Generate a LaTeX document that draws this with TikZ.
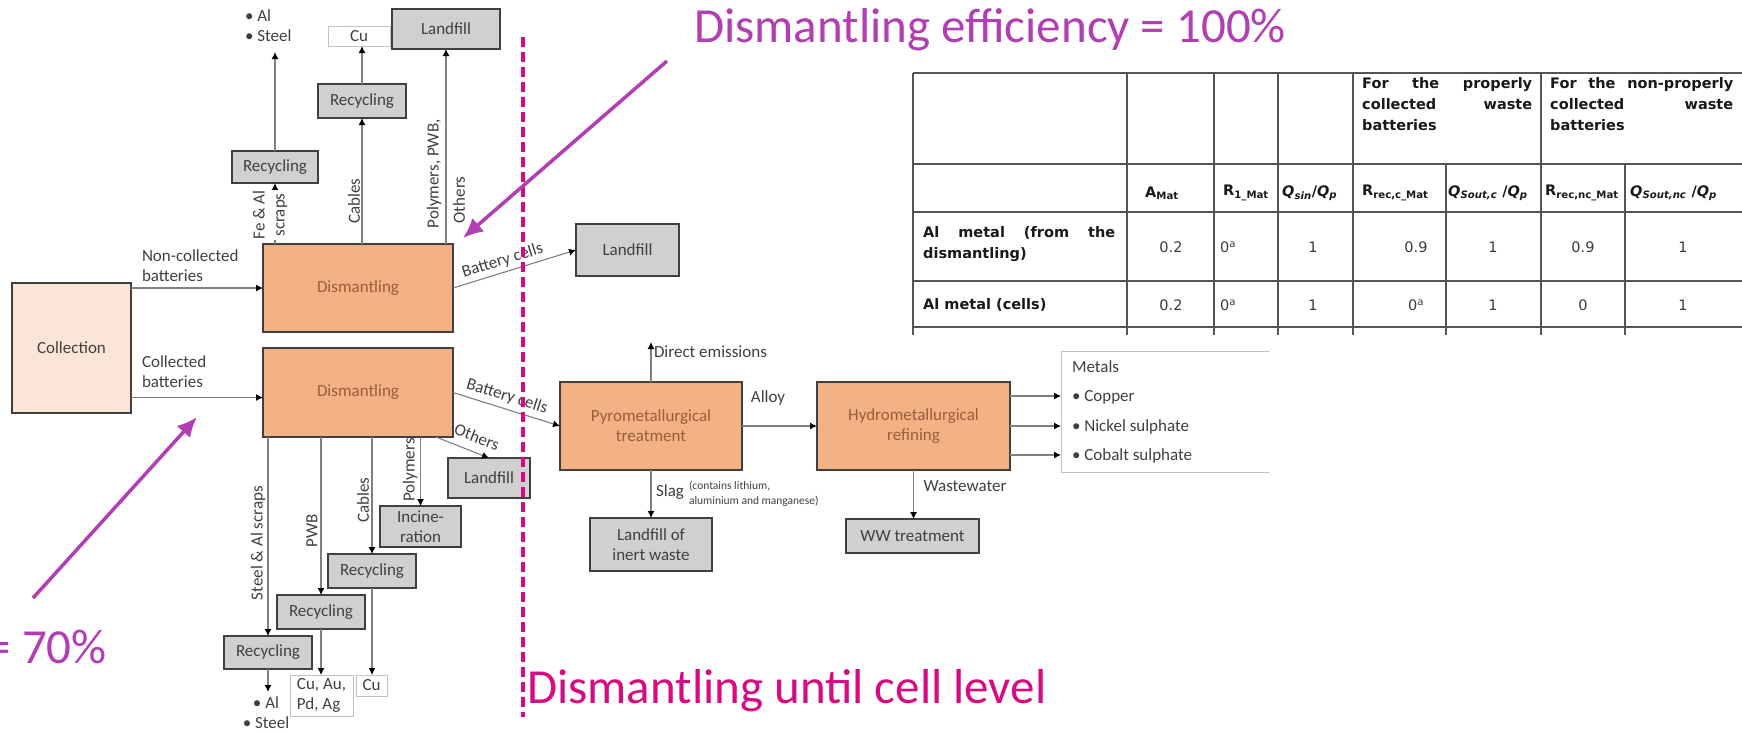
\documentclass[tikz,border=0pt]{standalone}
\usepackage{fontspec}
\setmainfont{Carlito}
\newfontfamily\tabfont{DejaVu Sans}[ItalicFont={DejaVu Sans Oblique},BoldFont={DejaVu Sans Bold},BoldItalicFont={DejaVu Sans Bold Oblique}]
\usetikzlibrary{arrows.meta}
\hyphenpenalty=10000
\exhyphenpenalty=10000
\tolerance=10000
\definecolor{boxline}{RGB}{64,64,64}
\definecolor{orangefill}{RGB}{244,177,131}
\definecolor{orangetext}{RGB}{150,95,60}
\definecolor{greyfill}{RGB}{208,208,208}
\definecolor{peach}{RGB}{251,229,214}
\definecolor{txt}{RGB}{64,64,64}
\definecolor{flowgrey}{RGB}{128,128,128}
\definecolor{lightline}{RGB}{195,195,195}
\definecolor{purp}{RGB}{177,62,178}
\definecolor{pinkm}{RGB}{214,10,130}
\definecolor{tabline}{RGB}{85,85,85}
\definecolor{tabtext}{RGB}{25,25,25}
\definecolor{tabval}{RGB}{60,60,60}
\tikzset{
  base/.style={inner sep=0pt, outer sep=0pt, font=\fontsize{17}{20}\selectfont},
  obox/.style={base, draw=boxline, line width=1.4pt, fill=orangefill, text=orangetext, align=center},
  gbox/.style={base, draw=boxline, line width=1.4pt, fill=greyfill, text=txt, align=center},
  cbox/.style={base, draw=boxline, line width=1.4pt, fill=peach, text=txt, align=center},
  wbox/.style={base, draw=lightline, line width=1pt, fill=white, text=txt},
  lbl/.style={base, text=txt},
  flow/.style={draw=flowgrey, line width=1.1pt, -{Latex[length=7pt,width=7pt,color=black]}},
  mag/.style={draw=purp, line width=3.5pt, -{Latex[length=20pt,width=18pt]}},
  big/.style={inner sep=0pt, font=\fontsize{49}{56}\selectfont},
  tb/.style={inner sep=0pt, text=tabtext, font=\tabfont\fontsize{14.5}{21}\selectfont},
  tv/.style={inner sep=0pt, text=tabval, font=\tabfont\fontsize{14.5}{21}\selectfont},
}
\begin{document}
\begin{tikzpicture}[x=1pt,y=-1pt]
\useasboundingbox (0,0) rectangle (1742,732);
\fill[white] (0,0) rectangle (1742,732);

% ---------- table ----------
\begin{scope}[draw=tabline, line width=1.2pt]
\draw (913,73) -- (1742,73);
\foreach \y in {164,212,281,327} \draw (913,\y) -- (1742,\y);
\foreach \x in {913,1127,1214,1278,1353,1541} \draw (\x,73) -- (\x,335);
\foreach \x in {1446,1625} \draw (\x,164) -- (\x,335);
\end{scope}
\node[tb, anchor=north west, text width=170pt, align=justify] (h1) at (1362,77) {\textbf{For the properly collected waste batteries}};
\node[tb, anchor=north west, text width=183pt, align=justify] (h2) at (1550,77) {\textbf{For the non\mbox{-}properly collected waste batteries}};
\node[tb, anchor=west] (c1) at (1145,193) {\textbf{A\textsubscript{Mat}}};
\node[tb, anchor=west] (c2) at (1223,193) {\textbf{R\textsubscript{1\_Mat}}};
\node[tb, anchor=west] (c3) at (1282,193) {\textbf{\textit{Q\textsubscript{sin}}/\textit{Q\textsubscript{p}}}};
\node[tb, anchor=west] (c4) at (1362,193) {\textbf{R\textsubscript{rec,c\_Mat}}};
\node[tb, anchor=west] (c5) at (1448,193) {\textbf{\textit{Q\textsubscript{Sout,c}} /\textit{Q\textsubscript{p}}}};
\node[tb, anchor=west] (c6) at (1545,193) {\textbf{R\textsubscript{rec,nc\_Mat}}};
\node[tb, anchor=west] (c7) at (1630,193) {\textbf{\textit{Q\textsubscript{Sout,nc}} /\textit{Q\textsubscript{p}}}};
\node[tb, anchor=north west, text width=192pt, align=justify] (r1) at (923,226) {\textbf{Al metal (from the dismantling)}};
\node[tb, anchor=west] (r2) at (923,305) {\textbf{Al metal (cells)}};
\node[tv] (v11) at (1171,247) {0.2};
\node[tv] (v12) at (1228,247) {0\textsuperscript{a}};
\node[tv] (v13) at (1313,247) {1};
\node[tv] (v14) at (1416,247) {0.9};
\node[tv] (v15) at (1493,247) {1};
\node[tv] (v16) at (1583,247) {0.9};
\node[tv] (v17) at (1683,247) {1};
\node[tv] (v21) at (1171,305) {0.2};
\node[tv] (v22) at (1228,305) {0\textsuperscript{a}};
\node[tv] (v23) at (1313,305) {1};
\node[tv] (v24) at (1416,305) {0\textsuperscript{a}};
\node[tv] (v25) at (1493,305) {1};
\node[tv] (v26) at (1583,305) {0};
\node[tv] (v27) at (1683,305) {1};

% ---------- boxes ----------
\node[cbox, minimum width=119pt, minimum height=130pt] (coll) at (71.5,348) {Collection};
\node[obox, minimum width=190pt, minimum height=88pt] (dis1) at (358,288) {Dismantling};
\node[obox, minimum width=190pt, minimum height=89pt] (dis2) at (358,392.5) {Dismantling};
\node[gbox, minimum width=86pt, minimum height=32pt] (rec1) at (275,167) {Recycling};
\node[gbox, minimum width=88pt, minimum height=34pt] (rec2) at (362,101) {Recycling};
\node[wbox, minimum width=62pt, minimum height=20pt] (cu1) at (359,36) {Cu};
\node[gbox, minimum width=108pt, minimum height=40pt] (land1) at (446,29) {Landfill};
\node[lbl, align=left, anchor=west] (als1) at (245,26) {• Al\\• Steel};
\coordinate (als1t) at (275,52);
\node[gbox, minimum width=103pt, minimum height=52pt] (land2) at (627.5,250) {Landfill};
\node[gbox, minimum width=82pt, minimum height=40pt] (land3) at (489,478) {Landfill};
\node[gbox, minimum width=81pt, minimum height=41pt] (incin) at (420.5,526.5) {Incine-\\ration};
\node[gbox, minimum width=88pt, minimum height=34pt] (rec3) at (372,571) {Recycling};
\node[gbox, minimum width=88pt, minimum height=34pt] (rec4) at (321,612) {Recycling};
\node[gbox, minimum width=88pt, minimum height=33pt] (rec5) at (268,652.5) {Recycling};
\node[wbox, minimum width=63pt, minimum height=41pt, align=left] (cuau) at (321.5,695.5) {Cu, Au,\\Pd, Ag};
\node[wbox, minimum width=31pt, minimum height=21pt] (cu2) at (371.5,685.5) {Cu};
\node[lbl, align=center] (als2) at (266,713) {• Al\\• Steel};
\coordinate (als2t) at (268,692);

\node[obox, minimum width=182pt, minimum height=88pt] (pyro) at (651,426) {Pyrometallurgical\\treatment};
\node[obox, minimum width=193pt, minimum height=88pt] (hydro) at (913.5,426) {Hydrometallurgical\\refining};
\node[gbox, minimum width=122pt, minimum height=53pt] (linert) at (651,544.5) {Landfill of\\inert waste};
\node[gbox, minimum width=133pt, minimum height=34pt] (wwt) at (912.5,536) {WW treatment};

% ---------- flows upper ----------
\draw[flow] (rec1 |- dis1.north) -- (rec1.south);
\draw[flow] (rec1.north) -- (als1t);
\draw[flow] (rec2 |- dis1.north) -- (rec2.south);
\draw[flow] (rec2.north) -- (rec2.north |- cu1.south);
\draw[flow] (land1 |- dis1.north) -- (land1.south);
\node[lbl, rotate=90, align=center, fill=white] (l1) at (270,215) {Fe \& Al\\scraps};
\node[lbl, rotate=90] (l2) at (354,201) {Cables};
\node[lbl, rotate=90] (l3) at (434,174) {Polymers, PWB,};
\node[lbl, rotate=90] (l4) at (459,200) {Others};

\coordinate (c2in) at ([yshift=-5pt]dis2.west);
\draw[flow] (coll.east |- dis1.west) -- (dis1.west);
\draw[flow] (coll.east |- c2in) -- (c2in);
\node[lbl, align=left, anchor=west] (nc) at (142,266) {Non-collected\\batteries};
\node[lbl, align=left, anchor=west] (cb) at (142,372) {Collected\\batteries};

\draw[flow] (dis1.east) -- node[lbl, sloped, above=4pt, pos=0.43] {Battery cells} (land2.west);
\draw[flow] (dis2.east) -- node[lbl, sloped, above=5pt, pos=0.47] {Battery cells} (pyro.west);
\draw[flow] ([xshift=-17pt]dis2.south east) -- (land3.north);
\node[lbl, rotate=-22] (oth) at (477,437) {Others};

% ---------- flows lower ----------
\draw[flow] (rec5 |- dis2.south) -- (rec5.north);
\draw[flow] (rec5.south) -- (als2t);
\draw[flow] (rec4 |- dis2.south) -- (rec4.north);
\draw[flow] (rec4.south) -- (rec4.south |- cuau.north);
\draw[flow] (rec3 |- dis2.south) -- (rec3.north);
\draw[flow] (rec3.south) -- (rec3.south |- cu2.north);
\draw[flow] (incin |- dis2.south) -- (incin.north);
\node[lbl, rotate=90] (s1) at (258,543) {Steel \& Al scraps};
\node[lbl, rotate=90] (s2) at (312,531) {PWB};
\node[lbl, rotate=90] (s3) at (363,500) {Cables};
\node[lbl, rotate=90] (s4) at (410,470) {Polymers};

% ---------- process chain ----------
\coordinate (de) at (651,342);
\draw[flow] (pyro.north) -- (de);
\node[lbl, anchor=west] (detext) at (654,352) {Direct emissions};
\draw[flow] (pyro.east) -- (hydro.west);
\node[lbl] (alloy) at (768,398) {Alloy};
\draw[flow] (pyro.south) -- (linert.north);
\node[lbl] (slag) at (670,492) {Slag};
\node[lbl, anchor=west, align=left, font=\fontsize{11.5}{15}\selectfont] (slagnote) at (689,494) {(contains lithium,\\aluminium and manganese)};
\draw[flow] (hydro.south) -- (hydro.south |- wwt.north);
\node[lbl] (ww) at (965,486) {Wastewater};

\draw[lightline, line width=1pt] (1270,351) -- (1061,351) -- (1061,472) -- (1270,472);
\node[lbl, anchor=west] (mt) at (1072,367) {Metals};
\node[lbl, anchor=west] (m1) at (1072,397) {• Copper};
\node[lbl, anchor=west] (m2) at (1072,427) {• Nickel sulphate};
\node[lbl, anchor=west] (m3) at (1072,456) {• Cobalt sulphate};
\coordinate (b1) at (1061,396);
\coordinate (b2) at (1061,426);
\coordinate (b3) at (1061,455);
\draw[flow] (hydro.east |- b1) -- (b1);
\draw[flow] (hydro.east |- b2) -- (b2);
\draw[flow] (hydro.east |- b3) -- (b3);

% ---------- annotations ----------
\draw[pinkm, line width=4pt, dash pattern=on 10pt off 5pt] (523,37) -- (523,717);
\coordinate (pa1s) at (667,61);
\coordinate (pa1e) at (463,238);
\draw[mag] (pa1s) -- (pa1e);
\coordinate (pa2s) at (33,598);
\coordinate (pa2e) at (197,417);
\draw[mag] (pa2s) -- (pa2e);
\node[big, text=purp, anchor=base west] (t1) at (694,42) {Dismantling efficiency = 100\%};
\node[big, text=pinkm, anchor=base west] (t2) at (527,703) {Dismantling until cell level};
\node[big, text=purp, anchor=base east] (t3) at (107,663) {= 70\%};
\end{tikzpicture}
\end{document}
